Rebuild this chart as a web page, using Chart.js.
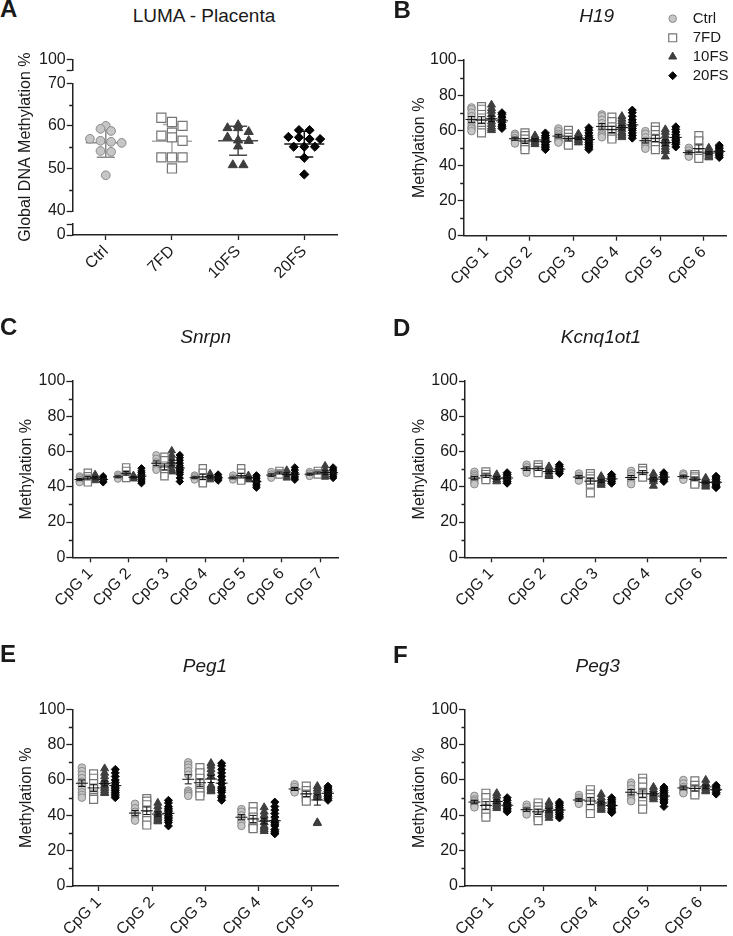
<!DOCTYPE html>
<html><head><meta charset="utf-8">
<script src="https://cdn.jsdelivr.net/npm/chart.js@4/dist/chart.umd.min.js"></script>
<style>
html,body{margin:0;padding:0;background:#fff;}
body{width:733px;height:936px;position:relative;overflow:hidden;font-family:'Liberation Sans',Arial,Helvetica,sans-serif;color:#1a1a1a;}
canvas{position:absolute;}
.lt{position:absolute;font-weight:bold;font-size:24px;line-height:1;white-space:nowrap;}
.tt{position:absolute;font-size:19px;line-height:1;white-space:nowrap;transform:translateX(-50%);}
.it{font-style:italic;}
</style></head>
<body>
<canvas id="cA" width="345" height="270" style="left:0px;top:30px"></canvas>
<canvas id="cB" width="367" height="300" style="left:366px;top:0px"></canvas>
<canvas id="cC" width="345" height="310" style="left:0px;top:300px"></canvas>
<canvas id="cD" width="367" height="310" style="left:366px;top:300px"></canvas>
<canvas id="cE" width="345" height="326" style="left:0px;top:610px"></canvas>
<canvas id="cF" width="367" height="326" style="left:366px;top:610px"></canvas>

<div class="lt" style="left:0px;top:-3px">A</div>
<div class="lt" style="left:393.5px;top:-2px">B</div>
<div class="lt" style="left:0px;top:314.5px">C</div>
<div class="lt" style="left:393px;top:316px">D</div>
<div class="lt" style="left:0px;top:641.5px">E</div>
<div class="lt" style="left:393px;top:642.5px">F</div>
<div class="tt" style="left:204px;top:5.6px">LUMA - Placenta</div>
<div class="tt it" style="left:596.7px;top:5.6px">H19</div>
<div class="tt it" style="left:205.7px;top:326.6px">Snrpn</div>
<div class="tt it" style="left:601px;top:326.6px">Kcnq1ot1</div>
<div class="tt it" style="left:205px;top:655.6px">Peg1</div>
<div class="tt it" style="left:597.7px;top:655.6px">Peg3</div>

<script>
// ---------------- DATA ----------------
const GROUPS = ['Ctrl', '7FD', '10FS', '20FS'];

// A: LUMA - Placenta (Global DNA Methylation %)
const lumaCats = ['Ctrl', '7FD', '10FS', '20FS'];
const lumaCtrl = [60.0, 59.3, 58.8, 56.95, 56.5, 56.25, 56.0, 54.1, 53.9, 48.4];
const luma7FD  = [61.9, 60.9, 60.0, 58.4, 57.7, 57.3, 56.5, 52.6, 52.6, 52.6, 50.0];
const luma10FS = [60.2, 59.5, 59.5, 58.6, 57.3, 56.6, 56.5, 55.2, 50.8, 50.8];
const luma20FS = [59.0, 59.0, 57.4, 57.3, 56.9, 56.9, 55.1, 55.1, 55.1, 52.5, 48.6];

// B: H19
const h19Cats = ['CpG 1', 'CpG 2', 'CpG 3', 'CpG 4', 'CpG 5', 'CpG 6'];
const h19Ctrl = [[73, 72, 70, 68, 66, 64, 62, 61, 59.5], [58, 57, 55.5, 54.5, 53.5, 52.5], [61, 59.5, 58, 57, 56, 55, 54, 53], [69, 68, 66, 64, 62, 60, 58, 57, 56], [59.5, 58, 56, 54, 53, 52, 50.5, 49.5], [50, 48.5, 47, 46, 45]];
const h19_7FD = [[73.5, 72, 69, 67, 64, 62, 60, 58.5], [58.5, 57, 55, 53, 51, 49], [60, 58, 56, 54, 52.5, 51.5], [67.5, 65, 62, 60, 58, 56, 55], [62, 60, 57.5, 55.5, 53, 51, 49], [57, 54, 50, 47, 45.5, 44]];
const h19_10FS = [[74.5, 72.5, 71, 69, 67, 65, 63.5, 62, 61, 60], [57, 56, 55, 54, 53, 52], [58, 57, 56, 55, 54, 53], [68, 66.5, 65, 63.5, 62, 60.5, 59, 58, 57, 56], [60.5, 59, 57, 55, 53.5, 52, 50.5, 49, 48, 45], [50, 49, 48, 47, 46, 45, 44.5]];
const h19_20FS = [[70, 69, 67.5, 66, 64.5, 63, 62, 61], [58.5, 57, 56, 55, 54, 53, 52, 51, 50, 49], [61.5, 60, 58.5, 57, 56, 55, 54, 53, 52, 51, 50, 49], [71.5, 70, 68, 66, 64.5, 63, 62, 61, 60, 58.5, 57, 55.5], [62, 60.5, 59, 57.5, 56, 55, 54, 53, 52, 50.5], [51.5, 50.5, 49.5, 48.5, 47.5, 46.5, 45.5, 44.5]];

// C: Snrpn
const snrpnCats = ['CpG 1', 'CpG 2', 'CpG 3', 'CpG 4', 'CpG 5', 'CpG 6', 'CpG 7'];
const snrpnCtrl = [[46, 45, 44, 43, 42.5], [47, 46, 45, 44.5], [58, 56, 54, 52, 50.5, 49.5], [46.5, 45.5, 44.5, 44], [46.5, 45, 44.5, 44], [48.5, 47, 46, 45], [48.5, 47.5, 46.5, 46]];
const snrpn7FD  = [[48, 46, 44.5, 43.5, 42.5], [51, 49, 47, 46, 45], [57, 55, 52, 50, 47.5, 46], [50.5, 48, 45, 43, 42], [50.5, 48, 45.5, 44, 43.5], [49, 47.5, 47], [49, 47.5, 47]];
const snrpn10FS = [[47, 45.5, 44.5, 43.5], [46.5, 45.5, 45, 44.5], [60.5, 58, 56, 54, 52, 50, 49, 48.5], [47.5, 46, 45, 44], [46.5, 45.5, 44.5, 44], [49.5, 47.5, 46, 45], [52, 50, 48, 47, 46, 45.5]];
const snrpn20FS = [[46, 45, 44, 43, 42.5], [50.5, 49, 48, 47, 46, 45, 44, 43, 42], [58, 56.5, 55, 53.5, 52, 51, 50, 49, 48, 47, 45, 43], [47, 46, 45, 44, 43.5], [46.5, 45.5, 44.5, 43.5, 42.5, 41.5, 40.5, 39.5], [51, 49.5, 48, 47, 46, 45, 44], [51, 50, 49, 48, 47, 46, 45]];

// D: Kcnq1ot1
const kcnqCats = ['CpG 1', 'CpG 2', 'CpG 3', 'CpG 4', 'CpG 6'];
const kcnqCtrl = [[48.5, 47, 46, 45, 44, 42.5, 41.5], [52.5, 51, 49.5, 48], [47.5, 46, 45, 43.5], [49, 47.5, 46, 44.5, 43, 41.5], [47.5, 46.5, 45, 44]];
const kcnq7FD  = [[48.5, 47, 45.5, 44], [52.5, 51, 49.5, 48], [47.5, 46, 44.5, 43, 41.5, 36.5], [50.5, 49, 47, 45.5], [47, 46, 45, 43.5, 42.5, 41.5]];
const kcnq10FS = [[47, 45.5, 44, 43], [51.5, 50, 48.5, 47, 46], [46, 44.5, 43, 42, 41], [47.5, 46, 45, 44, 43, 40.5], [45, 44, 43, 42, 41, 40]];
const kcnq20FS = [[48, 47, 46, 45, 44, 43, 42], [52.5, 51.5, 50.5, 49.5, 48.5, 47.5], [47, 46, 45, 44, 43, 42], [48, 47, 46, 45, 44, 43], [46, 45, 44, 43, 42, 41, 40, 39.5]];

// E: Peg1
const peg1Cats = ['CpG 1', 'CpG 2', 'CpG 3', 'CpG 4', 'CpG 5'];
const peg1Ctrl = [[67, 65, 63, 61, 59, 57, 55, 53, 51.5, 50], [46.5, 44, 42, 40, 38, 37], [70, 68.5, 67, 65, 63, 54, 53, 52, 51], [43.5, 42, 40, 38, 36, 34], [57.5, 56, 54.5, 53.5, 53]];
const peg1_7FD  = [[63.5, 61, 58, 55, 52, 50, 49], [49.5, 48, 46, 43, 40, 37, 34.5], [67, 64, 61, 58, 55, 53, 51], [45, 42, 39, 36, 33, 32.5], [56.5, 54, 52, 50, 48]];
const peg1_10FS = [[66.5, 64, 62, 60, 58.5, 57, 56, 55, 54, 53, 52.5], [47, 45, 43, 41, 40, 39, 38, 37, 36.5], [69.5, 68, 66, 64, 62, 57, 56, 55, 54, 53.5], [44.5, 42, 40, 38, 36, 34, 33, 32, 31], [56.5, 55, 53.5, 52, 51, 50, 36, 35.5]];
const peg1_20FS = [[66, 64, 62, 60, 58.5, 57, 56, 55, 54, 53, 52, 51, 50], [48.5, 47, 45, 44, 43, 42, 41, 40, 39, 38, 37, 36, 34], [69.5, 68, 66, 64, 62, 60, 58, 56, 55, 54, 53, 51, 50, 48.5], [47.5, 45, 43, 41, 39, 37, 36, 35, 34, 32, 31, 30, 29.5], [56.5, 55.5, 54.5, 53.5, 52.5, 51.5, 50.5, 49.5, 48.5]];

// F: Peg3
const peg3Cats = ['CpG 1', 'CpG 3', 'CpG 4', 'CpG 5', 'CpG 6'];
const peg3Ctrl = [[51, 49, 48, 47, 45.5, 44.5], [46, 44.5, 43, 42, 40.5], [51.5, 50, 49, 48, 47, 46.5], [58.5, 57, 55, 53, 51, 49, 48], [60, 58, 56, 55, 54, 53, 52.5]];
const peg3_7FD  = [[52.5, 50, 47, 44, 41, 39], [47, 45, 43, 41, 39, 37], [54.5, 52, 50, 47, 44, 41], [61, 59, 56, 53, 51, 48, 46, 43.5], [59.5, 57, 55, 53, 51.5]];
const peg3_10FS = [[52.5, 51, 49, 48, 47, 46, 45, 44], [47.5, 46, 45, 43, 42, 41, 40, 38.5], [52, 50, 48.5, 47, 46, 45, 44, 43], [56, 54.5, 53, 52, 51, 50, 49], [60, 58, 56, 55, 54, 53.5]];
const peg3_20FS = [[50, 48.5, 47, 46, 45, 44, 43, 42], [47.5, 46.5, 45.5, 44.5, 43.5, 42.5, 41.5, 40.5, 39.5, 38.5], [50, 49, 48, 47, 46, 45, 44, 43, 42, 41.5], [56, 55, 54, 53, 52, 51, 50, 49, 48, 47, 45], [57, 56, 55, 54, 53, 52]];

const methTicks = [0, 20, 40, 60, 80, 100];
const methMinor = [10, 30, 50, 70, 90];

// ---------------- STYLE ----------------
const FONT = "'Liberation Sans', Arial, Helvetica, sans-serif";
Chart.defaults.font.family = FONT;
Chart.defaults.font.size = 16;
Chart.defaults.color = '#1a1a1a';
Chart.defaults.animation = false;

const STY = [
  {ps: 'circle',   bg: '#c6c6c6', bc: '#8a8a8a', r: 3.8, bw: 1},
  {ps: 'rect',     bg: '#ffffff', bc: '#767676', r: 5.6, bw: 1.2},
  {ps: 'triangle', bg: '#3e3e3e', bc: '#3e3e3e', r: 4.6, bw: 1},
  {ps: 'rectRot',  bg: '#050505', bc: '#050505', r: 4.0, bw: 1}
];
const AXC = '#222';

function dsStyle(gi, ms) {
  const s = STY[gi];
  return {label: GROUPS[gi], pointStyle: s.ps, pointRadius: s.r * ms, pointHoverRadius: s.r * ms,
    pointBackgroundColor: s.bg, pointBorderColor: s.bc, pointBorderWidth: s.bw, showLine: false};
}

function barsPlugin(items, st, after, yId) {
  const draw = (chart) => {
    const ctx = chart.ctx, xs = chart.scales.x, ys = chart.scales[yId || 'y'];
    ctx.save(); ctx.lineWidth = st.lw;
    items.forEach(it => {
      const n = it.vals.length, m = it.vals.reduce((a, b) => a + b, 0) / n;
      const sd = n > 1 ? Math.sqrt(it.vals.reduce((a, b) => a + (b - m) * (b - m), 0) / (n - 1)) : 0;
      const e = st.kind === 'sd' ? sd : sd / Math.sqrt(n);
      const px = xs.getPixelForValue(it.x), pm = ys.getPixelForValue(m);
      const pt = ys.getPixelForValue(m + e), pb = ys.getPixelForValue(m - e);
      ctx.strokeStyle = it.color;
      ctx.beginPath();
      ctx.moveTo(px - st.mw, pm); ctx.lineTo(px + st.mw, pm);
      ctx.moveTo(px, pt); ctx.lineTo(px, pb);
      ctx.moveTo(px - st.cw, pt); ctx.lineTo(px + st.cw, pt);
      ctx.moveTo(px - st.cw, pb); ctx.lineTo(px + st.cw, pb);
      ctx.stroke();
    });
    ctx.restore();
  };
  return after ? {id: 'bars', afterDatasetsDraw: draw} : {id: 'bars', beforeDatasetsDraw: draw};
}

function minorPlugin(yId, values, len) {
  return {id: 'minor', afterDraw(chart) {
    const ys = chart.scales[yId], ctx = chart.ctx, x = chart.chartArea.left;
    ctx.save(); ctx.strokeStyle = AXC; ctx.lineWidth = 1.3; ctx.beginPath();
    values.forEach(v => { const y = Math.round(ys.getPixelForValue(v)) + 0.5; ctx.moveTo(x - len, y); ctx.lineTo(x, y); });
    ctx.stroke(); ctx.restore();
  }};
}

function xAxis(cats, o) {
  return {
    type: 'linear', min: o.xMin, max: o.xMax, bounds: 'data',
    afterBuildTicks: s => { s.ticks = cats.map((c, i) => ({value: i})); },
    afterFit: s => { s.height = o.H; },
    ticks: {callback: v => cats[v] !== undefined ? cats[v] : '', minRotation: 45, maxRotation: 45, autoSkip: false, padding: 2, color: '#1a1a1a', font: {size: 16}},
    grid: {display: true, drawOnChartArea: false, drawTicks: true, tickLength: 5, tickColor: AXC, tickWidth: 1.3},
    border: {display: true, color: AXC, width: 1.5}
  };
}

function yBase(W) {
  return {
    type: 'linear', position: 'left', bounds: 'data',
    afterFit: s => { s.width = W; },
    grid: {display: true, drawOnChartArea: false, drawTicks: true, tickLength: 6, tickColor: AXC, tickWidth: 1.3},
    border: {display: true, color: AXC, width: 1.5},
    ticks: {padding: 1, autoSkip: false, color: '#1a1a1a', font: {size: 16}}
  };
}

function makeDot(id, cats, groups, o) {
  const datasets = groups.map((g, gi) => Object.assign(dsStyle(gi, o.ms), {
    data: g.flatMap((vals, ci) => vals.map(v => ({x: ci + o.off[gi], y: v})))
  }));
  const bars = [];
  groups.forEach((g, gi) => g.forEach((vals, ci) => bars.push({vals, x: ci + o.off[gi], color: '#111'})));
  const y = yBase(o.W);
  Object.assign(y, {min: 0, max: 100,
    afterBuildTicks: s => { s.ticks = methTicks.map(v => ({value: v})); },
    title: {display: true, text: 'Methylation %', color: '#1a1a1a', font: {size: 16}, padding: {top: o.tp, bottom: 0}}
  });
  return new Chart(document.getElementById(id), {
    type: 'scatter',
    data: {datasets},
    options: {
      responsive: false, animation: false, events: [],
      layout: {padding: {left: 0, top: o.top, right: o.right, bottom: 0}},
      plugins: {legend: {display: false}, tooltip: {enabled: false}},
      scales: {x: xAxis(cats, o), y}
    },
    plugins: [barsPlugin(bars, {lw: 1, mw: o.mw, cw: o.cw, kind: 'sem'}, true, 'y'), minorPlugin('y', methMinor, 3.5)].concat(o.extra || [])
  });
}

// horizontal spread for points sharing a value band (scatter dot plot)
function swarm(vals, band, step) {
  const bins = {};
  vals.forEach((v, i) => { const b = Math.round(v / band); (bins[b] = bins[b] || []).push(i); });
  const off = vals.map(() => 0);
  Object.values(bins).forEach(idx => idx.forEach((i, j) => { off[i] = (j - (idx.length - 1) / 2) * step; }));
  return off;
}

// ---------------- PANEL A ----------------
(function () {
  const groups = [lumaCtrl, luma7FD, luma10FS, luma20FS];
  const datasets = groups.map((vals, gi) => {
    const off = swarm(vals, 2.1, 0.16);
    return Object.assign(dsStyle(gi, 1.15), {data: vals.map((v, i) => ({x: gi + off[i], y: v})), yAxisID: 'y'});
  });
  const barCols = ['#8a8a8a', '#a9a9a9', '#4a4a4a', '#151515'];
  const bars = groups.map((vals, gi) => ({vals, x: gi, color: barCols[gi]}));
  const W = 72.7;
  const o = {xMin: -0.5, xMax: 3.5, H: 65};
  const yTop = Object.assign(yBase(W), {stack: 'ya', stackWeight: 11, weight: 5, min: 95, max: 100,
    afterBuildTicks: s => { s.ticks = [{value: 95}, {value: 100}]; }});
  yTop.ticks = Object.assign({}, yTop.ticks, {callback: v => v === 100 ? '100' : ''});
  const gap = (w) => ({type: 'linear', position: 'left', stack: 'ya', stackWeight: 13, weight: w, min: 0, max: 1,
    afterFit: s => { s.width = W; }, grid: {display: false}, border: {display: false}, ticks: {display: false}});
  const yMain = Object.assign(yBase(W), {stack: 'ya', stackWeight: 128, weight: 3, min: 40, max: 70,
    afterBuildTicks: s => { s.ticks = [40, 50, 60, 70].map(v => ({value: v})); },
    title: {display: true, text: 'Global DNA Methylation %', color: '#1a1a1a', font: {size: 16}, padding: {top: 16.4, bottom: 0}}});
  const yBot = Object.assign(yBase(W), {stack: 'ya', stackWeight: 11, weight: 1, min: 0, max: 10,
    afterBuildTicks: s => { s.ticks = [{value: 0}, {value: 10}]; }});
  yBot.ticks = Object.assign({}, yBot.ticks, {callback: v => v === 0 ? '0' : ''});
  new Chart(document.getElementById('cA'), {
    type: 'scatter',
    data: {datasets},
    options: {
      responsive: false, animation: false, events: [],
      layout: {padding: {left: 0, top: 29.3, right: 7, bottom: 0}},
      plugins: {legend: {display: false}, tooltip: {enabled: false}},
      scales: {x: xAxis(lumaCats, o), yTop, yGap1: gap(4), y: yMain, yGap2: gap(2), yBot}
    },
    plugins: [barsPlugin(bars, {lw: 1.5, mw: 20, cw: 9, kind: 'sd'}, false, 'y'), minorPlugin('y', [45, 55, 65], 3.5)]
  });
})();

// ---------------- PANELS B-F ----------------
const legendPlugin = {id: 'grpLegend', afterDraw(chart) {
  const ctx = chart.ctx, rows = [18.7, 37.8, 56.7, 75.7];
  GROUPS.forEach((g, i) => {
    const s = STY[i];
    ctx.save();
    ctx.fillStyle = s.bg; ctx.strokeStyle = s.bc; ctx.lineWidth = s.bw;
    if (Chart.helpers && Chart.helpers.drawPoint) {
      Chart.helpers.drawPoint(ctx, {pointStyle: s.ps, radius: s.r, rotation: 0, borderWidth: s.bw}, 306.7, rows[i]);
    } else {
      ctx.beginPath(); ctx.arc(306.7, rows[i], s.r, 0, Math.PI * 2); ctx.fill(); ctx.stroke();
    }
    ctx.fillStyle = '#1a1a1a'; ctx.font = '15px ' + FONT; ctx.textBaseline = 'middle'; ctx.textAlign = 'left';
    ctx.fillText(g, 326.7, rows[i]);
    ctx.restore();
  });
}};

makeDot('cB', h19Cats, [h19Ctrl, h19_7FD, h19_10FS, h19_20FS],
  {W: 97.7, top: 60, right: 1.5, H: 64.3, tp: 43.7, xMin: -0.52, xMax: 5.52, off: [-0.34, -0.11, 0.12, 0.36], ms: 1, mw: 6, cw: 3.5, extra: [legendPlugin]});
makeDot('cC', snrpnCats, [snrpnCtrl, snrpn7FD, snrpn10FS, snrpn20FS],
  {W: 72.3, top: 81, right: 6.7, H: 52.7, tp: 17.1, xMin: -0.47, xMax: 6.47, off: [-0.28, -0.065, 0.125, 0.335], ms: 0.92, mw: 5, cw: 3});
makeDot('cD', kcnqCats, [kcnqCtrl, kcnq7FD, kcnq10FS, kcnq20FS],
  {W: 99, top: 81, right: 1.3, H: 52.7, tp: 43.7, xMin: -0.5, xMax: 4.5, off: [-0.32, -0.1, 0.107, 0.306], ms: 1, mw: 6, cw: 3.5});
makeDot('cE', peg1Cats, [peg1Ctrl, peg1_7FD, peg1_10FS, peg1_20FS],
  {W: 72.3, top: 99.3, right: 6.7, H: 50, tp: 17.1, xMin: -0.5, xMax: 4.5, off: [-0.32, -0.1, 0.108, 0.308], ms: 1, mw: 6, cw: 3.5});
makeDot('cF', peg3Cats, [peg3Ctrl, peg3_7FD, peg3_10FS, peg3_20FS],
  {W: 99, top: 99.3, right: 2, H: 50, tp: 43.7, xMin: -0.5, xMax: 4.5, off: [-0.32, -0.1, 0.108, 0.308], ms: 1, mw: 6, cw: 3.5});
</script>
</body></html>
